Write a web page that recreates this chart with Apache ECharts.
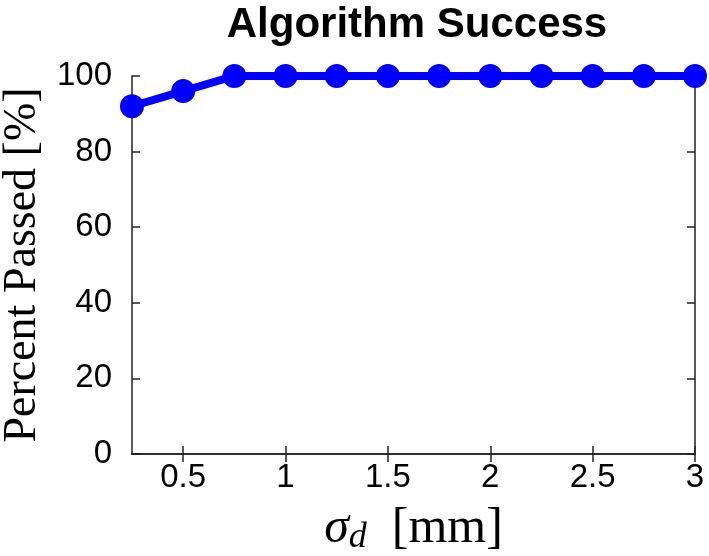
<!DOCTYPE html>
<html>
<head>
<meta charset="utf-8">
<script src="https://cdn.jsdelivr.net/npm/echarts@6/dist/echarts.min.js"></script>
<style>
  html, body { margin: 0; padding: 0; background: #fff; }
  #chart { width: 709px; height: 556px; }
</style>
</head>
<body>
<div id="chart"></div>
<script>
// sigma_d values [mm] and percent passed
var sigmaD = [0.25, 0.5, 0.75, 1, 1.25, 1.5, 1.75, 2, 2.25, 2.5, 2.75, 3];
var percentPassed = [92, 96, 100, 100, 100, 100, 100, 100, 100, 100, 100, 100];
var xTicks = [0.5, 1, 1.5, 2, 2.5, 3];
var yTicks = [0, 20, 40, 60, 80, 100];

var myChart = echarts.init(document.getElementById("chart"));
var axisLineStyle = { color: "#222", width: 1.5 };
var points = sigmaD.map(function (x, i) {
  return [x, percentPassed[i]];
});

myChart.setOption({
  animation: false,
  title: {
    text: "Algorithm Success",
    left: 412,
    top: -1,
    textAlign: "center",
    textStyle: {
      fontFamily: "Liberation Sans",
      fontWeight: "bold",
      fontSize: 42,
      color: "#000"
    }
  },
  grid: {
    left: 132,
    right: 14,
    top: 76,
    bottom: 102,
    outerBoundsMode: "none"
  },
  xAxis: [
    {
      type: "value",
      min: 0.25,
      max: 3,
      axisLine: { lineStyle: axisLineStyle },
      axisTick: { inside: true, length: 8, customValues: xTicks, lineStyle: axisLineStyle },
      axisLabel: {
        customValues: xTicks,
        margin: 7,
        fontFamily: "Liberation Sans",
        fontSize: 33,
        color: "#000"
      },
      splitLine: { show: false },
      name: "{s|σ}{d|d}{b|  [mm]}",
      nameLocation: "middle",
      nameGap: 48,
      nameTextStyle: {
        rich: {
          s: { fontFamily: "Liberation Serif", fontStyle: "italic", fontSize: 50, color: "#000" },
          d: { fontFamily: "Liberation Serif", fontStyle: "italic", fontSize: 36, color: "#000", verticalAlign: "bottom", padding: [18, 0, 0, 0] },
          b: { fontFamily: "Liberation Serif", fontSize: 50, color: "#000" }
        }
      }
    },
    {
      type: "value",
      position: "top",
      min: 0.25,
      max: 3,
      axisLine: { show: true, lineStyle: axisLineStyle },
      axisTick: { inside: true, length: 8, customValues: xTicks, lineStyle: axisLineStyle },
      axisLabel: { show: false },
      splitLine: { show: false }
    }
  ],
  yAxis: [
    {
      type: "value",
      min: 0,
      max: 100,
      interval: 20,
      axisLine: { show: true, lineStyle: axisLineStyle },
      axisTick: { show: true, inside: true, length: 8, lineStyle: axisLineStyle },
      axisLabel: {
        margin: 20,
        fontFamily: "Liberation Sans",
        fontSize: 33,
        color: "#000"
      },
      splitLine: { show: false },
      name: "Percent Passed [%]",
      nameLocation: "middle",
      nameGap: 86,
      nameTextStyle: {
        fontFamily: "Liberation Serif",
        fontSize: 46,
        color: "#000"
      }
    },
    {
      type: "value",
      position: "right",
      min: 0,
      max: 100,
      interval: 20,
      axisLine: { show: true, lineStyle: axisLineStyle },
      axisTick: { show: true, inside: true, length: 8, lineStyle: axisLineStyle },
      axisLabel: { show: false },
      splitLine: { show: false }
    }
  ],
  series: [
    {
      type: "line",
      data: points,
      clip: false,
      symbol: "circle",
      symbolSize: 24,
      lineStyle: { color: "#0000ff", width: 8 },
      itemStyle: { color: "#0000ff" }
    }
  ]
});
</script>
</body>
</html>
